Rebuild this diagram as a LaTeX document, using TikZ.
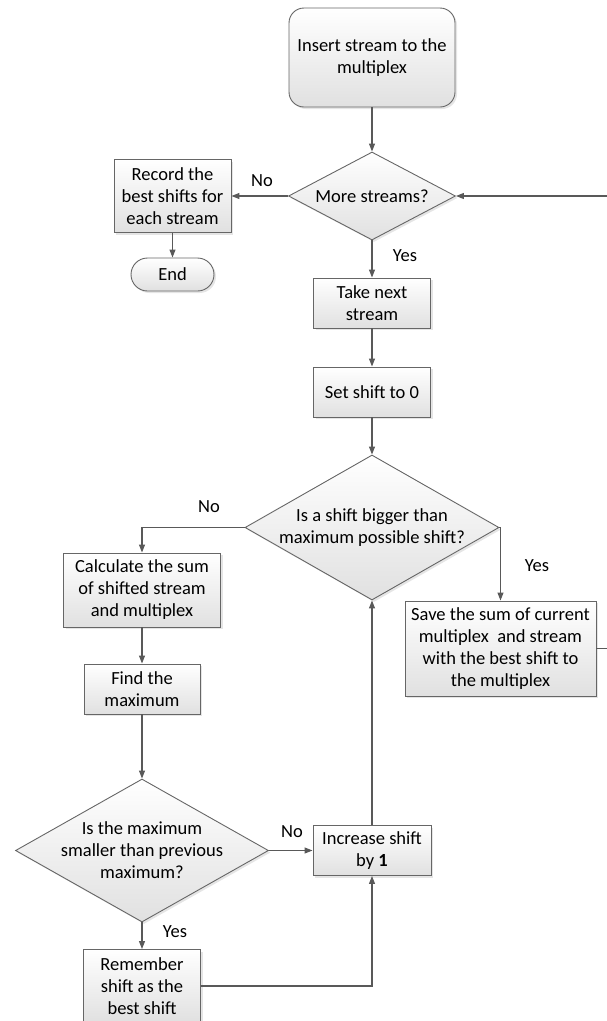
\documentclass[tikz,border=0pt]{standalone}
\usepackage{fontspec}
\setmainfont{Carlito}
\usetikzlibrary{shapes.geometric,arrows.meta,shadows}

\begin{document}
\begin{tikzpicture}
[x=1pt, y=-1pt,
font=\fontsize{18.5}{22}\selectfont,
every node/.style={align=center, inner sep=0pt},
box/.style={draw=black!60, line width=0.9pt, top color=white, bottom color=black!12,
  drop shadow={shadow xshift=2pt, shadow yshift=-2pt, fill=black!25, opacity=0.4}},
block/.style={box, rectangle},
term/.style={box, rectangle, rounded corners=#1},
decision/.style={box, diamond, aspect=1.78},
line/.style={draw=black!65, line width=1.1pt, -{Triangle[length=8pt,width=6pt]}}]

\useasboundingbox (0,0) rectangle (606,1021);

\node[term=15pt, minimum width=166pt, minimum height=99pt] (insert) at (372,57.5) {Insert stream to the\\multiplex};
\node[decision, aspect=1.9, inner xsep=-8pt, minimum width=167pt, minimum height=88pt] (more) at (372,196) {More streams?};
\node[block, minimum width=117pt, minimum height=73pt] (record) at (172.5,196) {Record the\\best shifts for\\each stream};
\node[term=16.5pt, minimum width=83pt, minimum height=33pt] (end) at (172.5,274.5) {End};
\node[block, minimum width=117pt, minimum height=50pt] (take) at (372,303) {Take next\\stream};
\node[block, minimum width=117pt, minimum height=50pt] (setzero) at (372,392) {Set shift to 0};
\node[decision, inner xsep=-25pt, minimum width=254pt, minimum height=145pt] (toobig) at (372,527.5) {Is a shift bigger than\\maximum possible shift?};
\node[block, minimum width=191pt, minimum height=95pt] (save) at (500.5,648.5) {Save the sum of current\\multiplex~ and stream\\with the best shift to\\the multiplex};
\node[block, minimum width=157pt, minimum height=74pt] (calc) at (142,590) {Calculate the sum\\of shifted stream\\and multiplex};
\node[block, minimum width=116pt, minimum height=50pt] (findmax) at (142,689) {Find the\\maximum};
\node[decision, inner xsep=-20pt, minimum width=253pt, minimum height=143pt] (smaller) at (142,850.5) {Is the maximum\\smaller than previous\\maximum?};
\node[block, minimum width=118pt, minimum height=50pt] (incr) at (372,850.5) {Increase shift\\by \textbf{1}};
\node[block, minimum width=117pt, minimum height=73pt] (remember) at (142,986) {Remember\\shift as the\\best shift};
\coordinate (loop) at (618,400);

\node (no1) at (262,181) {No};
\node (yes1) at (405,256) {Yes};
\node (no2) at (209,507) {No};
\node (yes2) at (537,566) {Yes};
\node (no3) at (292,832) {No};
\node (yes3) at (175,932) {Yes};

\draw[line] (insert) -- (more);
\draw[line] (more) -- (record);
\draw[line] (record) -- (end);
\draw[line] (more) -- (take);
\draw[line] (take) -- (setzero);
\draw[line] (setzero) -- (toobig);
\draw[line] (toobig.west) -| (calc.north);
\draw[line] (toobig.east) -| (save.north);
\draw[line] (save.east) -| (loop) |- (more.east);
\draw[line] (calc) -- (findmax);
\draw[line] (findmax) -- (smaller);
\draw[line] (smaller.east) -- (incr.west);
\draw[line] (smaller) -- (remember);
\draw[line] (remember.east) -| (incr.south);
\draw[line] (incr) -- (toobig);
\end{tikzpicture}
\end{document}
